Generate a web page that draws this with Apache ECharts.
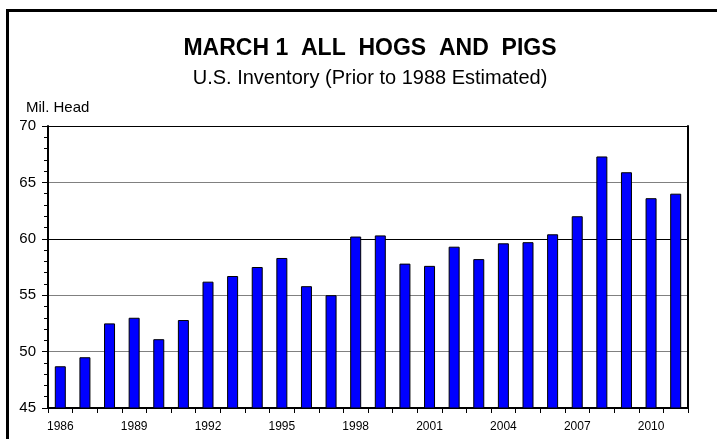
<!DOCTYPE html>
<html>
<head>
<meta charset="utf-8">
<script src="https://cdn.jsdelivr.net/npm/echarts@6/dist/echarts.min.js"></script>
<style>
  html, body { margin: 0; padding: 0; background: #fff; }
  #hogs { width: 717px; height: 439px; }
</style>
</head>
<body>
<div id="hogs"></div>
<script>
// March 1 inventory, all hogs and pigs (million head)
var years = ['1986','1987','1988','1989','1990','1991','1992','1993','1994','1995',
  '1996','1997','1998','1999','2000','2001','2002','2003','2004','2005',
  '2006','2007','2008','2009','2010','2011'];
var inventory = [48.7, 49.5, 52.5, 53.0, 51.1, 52.8, 56.2, 56.7, 57.5, 58.3,
  55.8, 55.0, 60.2, 60.3, 57.8, 57.6, 59.3, 58.2, 59.6, 59.7,
  60.4, 62.0, 67.3, 65.9, 63.6, 64.0];
var yTicks = [45, 50, 55, 60, 65, 70];

var chart = echarts.init(document.getElementById('hogs'));
var font = 'Liberation Sans, Arial, sans-serif';

chart.setOption({
  animation: false,
  textStyle: { fontFamily: font },
  title: [{
    text: 'MARCH 1  ALL  HOGS  AND  PIGS',
    left: 365, top: 32, textAlign: 'center',
    textStyle: { fontSize: 23, fontWeight: 'bold', color: '#000', fontFamily: font }
  }, {
    text: 'U.S. Inventory (Prior to 1988 Estimated)',
    left: 365, top: 63, textAlign: 'center',
    textStyle: { fontSize: 20, fontWeight: 'normal', color: '#000', fontFamily: font }
  }, {
    text: 'Mil. Head',
    left: 21, top: 95,
    textStyle: { fontSize: 15, fontWeight: 'normal', color: '#000', fontFamily: font }
  }],
  grid: { left: 48, right: 29, top: 126, bottom: 31, containLabel: false },
  xAxis: {
    type: 'category',
    data: years,
    boundaryGap: true,
    axisLine: { lineStyle: { color: '#000', width: 2 } },
    axisTick: { show: true, length: 5, lineStyle: { color: '#000' }, interval: 0 },
    axisLabel: { interval: 2, fontSize: 12, color: '#000', margin: 13 },
    splitLine: { show: false }
  },
  yAxis: [{
    type: 'value',
    min: yTicks[0], max: yTicks[yTicks.length - 1], interval: 5,
    axisLine: { show: true, lineStyle: { color: '#000', width: 2 } },
    axisTick: { show: true, length: 6, lineStyle: { color: '#000' } },
    axisLabel: { fontSize: 15, color: '#000', margin: 12 },
    splitLine: { show: true, lineStyle: { color: ['#000', '#808080', '#808080', '#000', '#808080', '#000'], width: 1 } }
  }, {
    type: 'value', position: 'left',
    min: yTicks[0], max: yTicks[yTicks.length - 1], interval: 1,
    axisLine: { show: false },
    axisTick: { show: true, length: 4, lineStyle: { color: '#000' } },
    axisLabel: { show: false },
    splitLine: { show: false }
  }, {
    type: 'value', position: 'right',
    min: yTicks[0], max: yTicks[yTicks.length - 1], interval: 5,
    axisLine: { show: true, lineStyle: { color: '#000', width: 2 } },
    axisTick: { show: false },
    axisLabel: { show: false },
    splitLine: { show: false }
  }],
  graphic: [{
    type: 'polyline',
    shape: { points: [[7.5, 439], [7.5, 10.5], [717, 10.5]] },
    style: { stroke: '#000', lineWidth: 3, fill: null }
  }, {
    type: 'line',
    shape: { x1: 48, y1: 126.5, x2: 688, y2: 126.5 },
    style: { stroke: '#000', lineWidth: 1 }
  }],
  series: [{
    type: 'bar',
    data: inventory,
    barWidth: 11,
    itemStyle: { color: '#0000ff', borderColor: '#000', borderWidth: 1 }
  }]
});
</script>
</body>
</html>
